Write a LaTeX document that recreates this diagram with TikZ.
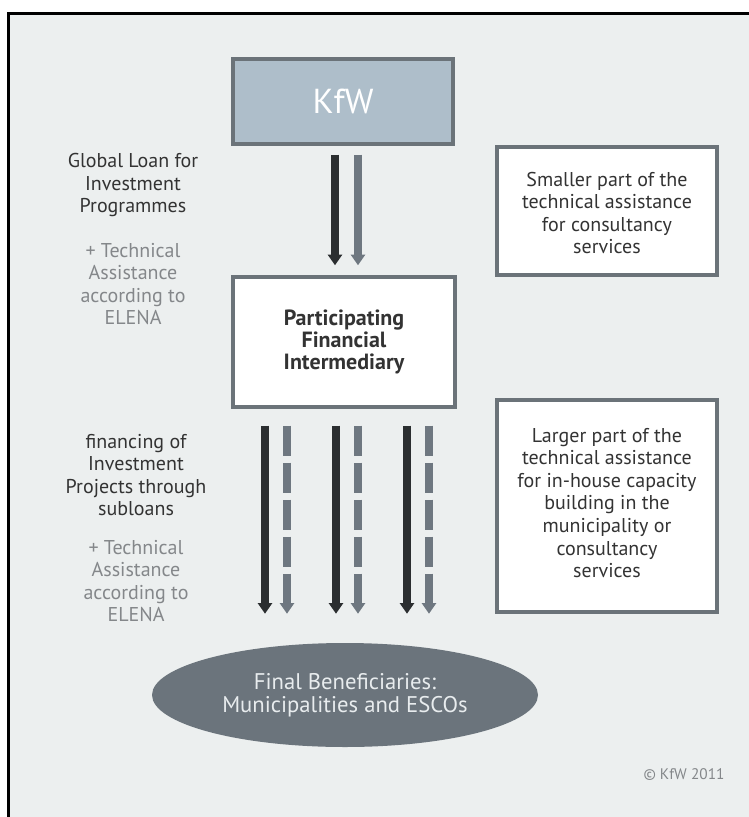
\documentclass[tikz,border=0pt]{standalone}
\usepackage{fontspec}
\setmainfont{PT Sans}
\usetikzlibrary{arrows.meta,calc,shapes.geometric}
\definecolor{bgc}{HTML}{ECEFEF}
\definecolor{boxline}{HTML}{6B7379}
\definecolor{kfwfill}{HTML}{AEBECA}
\definecolor{darkarrow}{HTML}{2B2E30}
\definecolor{grayarrow}{HTML}{6E7780}
\definecolor{ellfill}{HTML}{6B747C}
\definecolor{elltext}{HTML}{E8ECEE}
\definecolor{txtdark}{HTML}{333333}
\definecolor{txtlight}{HTML}{84878A}
\tikzset{
  boxstyle/.style={draw=boxline, line width=2.6pt, fill=white, inner sep=0pt},
  lbl/.style={align=center, font=\fontsize{15}{16.9}\selectfont, text=txtdark},
  lbllight/.style={align=center, font=\fontsize{15}{16.9}\selectfont, text=txtlight},
  darr/.style={draw=darkarrow, line width=6.5pt, -{Triangle[width=10.5pt,length=8pt]}},
  garr/.style={draw=grayarrow, line width=6.5pt, -{Triangle[width=10.5pt,length=8pt]}},
  gdarr/.style={garr, dash pattern=on 22.5pt off 5.25pt},
}
\begin{document}
\begin{tikzpicture}[x=0.75pt,y=-0.75pt]
\useasboundingbox (0,0) rectangle (749,817);
\fill[white] (0,0) rectangle (749,817);
\fill[bgc] (8,13) rectangle (749,817);
\draw[black, line width=2.2pt] (8.5,817) -- (8.5,13.5) -- (749,13.5);

% KfW box
\node[draw=boxline, line width=2.6pt, fill=kfwfill, minimum width=165pt, minimum height=63.75pt, inner sep=0pt,
      text=white, font=\fontsize{26}{30}\selectfont] (kfw) at (343,101.5) {KfW};

% Participating Financial Intermediary
\node[boxstyle, minimum width=166.5pt, minimum height=97.5pt, align=center, text=txtdark,
      font=\fontsize{16.5}{16.4}\selectfont\bfseries] (pfi) at (344,342) {Participating\\Financial\\Intermediary};

% right boxes
\node[boxstyle, minimum width=165pt, minimum height=96pt] (rt) at (607,211) {};
\node[lbl] (rttext) at (607,213) {Smaller part of the\\technical assistance\\for consultancy\\services};
\node[boxstyle, minimum width=165pt, minimum height=159pt] (rb) at (607,506) {};
\node[lbl] (rbtext) at (607,503) {Larger part of the\\technical assistance\\for in-house capacity\\building in the\\municipality or\\consultancy\\services};

% left labels
\node[lbl] (gl) at (133,185) {Global Loan for\\Investment\\Programmes};
\node[lbllight] (ta1) at (133,284) {+ Technical\\Assistance\\according to\\ELENA};
\node[lbl] (fin) at (136,475) {financing of\\Investment\\Projects through\\subloans};
\node[lbllight] (ta2) at (136,581) {+ Technical\\Assistance\\according to\\ELENA};

% final beneficiaries
\node[ellipse, fill=ellfill, minimum width=289.5pt, minimum height=78pt, inner sep=0pt,
      align=center, text=elltext, font=\fontsize{17}{17.5}\selectfont] (fb) at (345,695)
      {Final Beneficiaries:\\Municipalities and ESCOs};

% copyright
\node[text=txtlight, font=\fontsize{11.5}{13}\selectfont] (copy) at (684,775) {© KfW 2011};

% arrows KfW -> PFI
\draw[darr] ($(kfw.south)+(-8,9)$) -- ($(pfi.north)+(-9,-10)$);
\draw[garr] ($(kfw.south)+(15,9)$) -- ($(pfi.north)+(14,-10)$);

% arrows PFI -> final beneficiaries
\foreach \dx in {-79,-8,63} {
  \draw[darr] ($(pfi.south)+(\dx,17)$) -- ($(fb.north)+(\dx-1,-29)$);
}
\foreach \dx in {-57,14,85} {
  \draw[gdarr] ($(pfi.south)+(\dx,17)$) -- ($(fb.north)+(\dx-1,-29)$);
}
\end{tikzpicture}
\end{document}
